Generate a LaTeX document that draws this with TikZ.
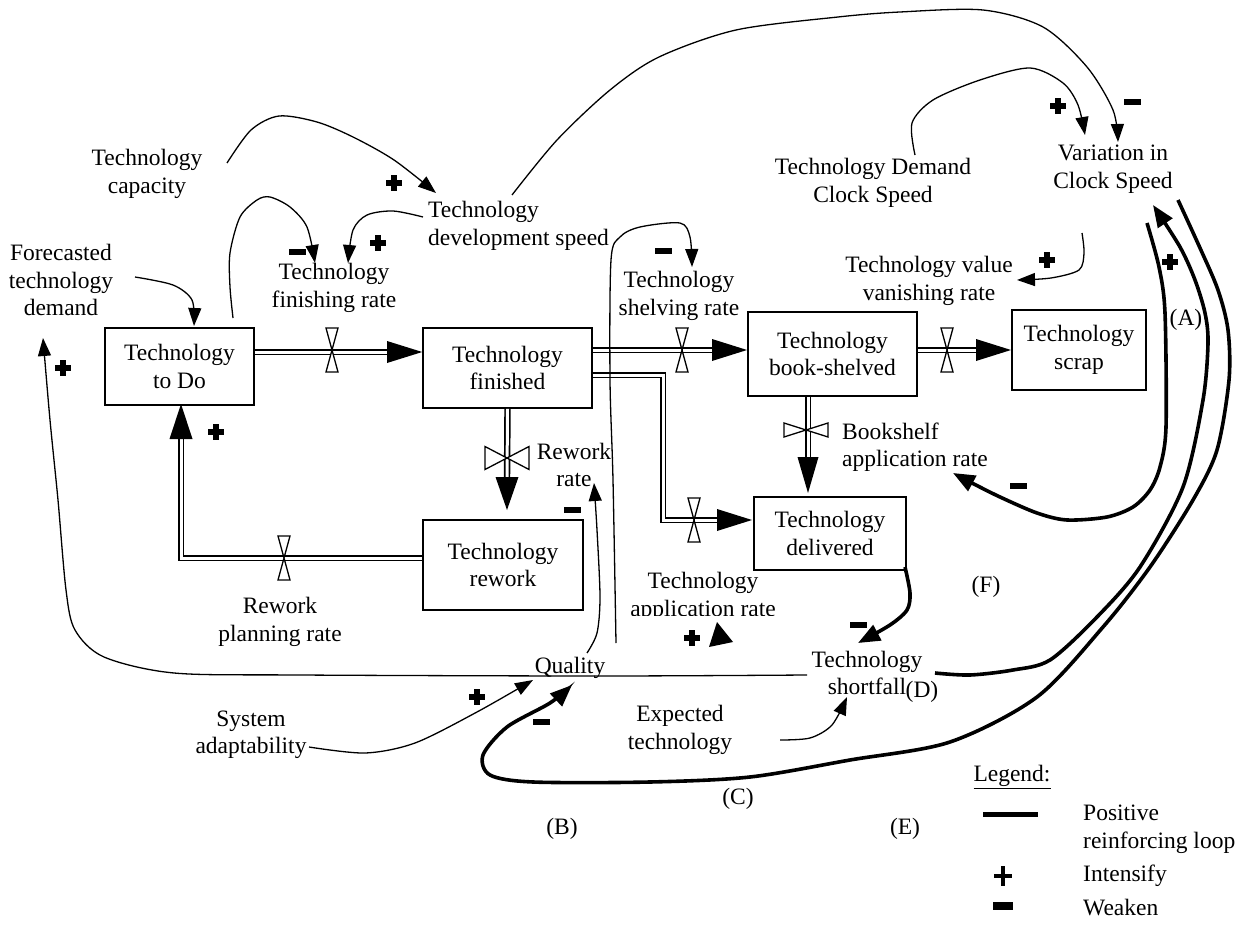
\documentclass[tikz,border=0pt]{standalone}
\usepackage{fontspec}
\setmainfont{Liberation Serif}
\usetikzlibrary{arrows.meta}
\begin{document}
\begin{tikzpicture}[x=1pt,y=-1pt,
  lbl/.style={align=center,inner sep=0pt,font=\fontsize{23.5}{27.5}\selectfont},
  stock/.style={draw,line width=1.6pt,align=center,inner sep=0pt,font=\fontsize{23.5}{27.5}\selectfont},
  infl/.style={line width=1.3pt,-{Triangle[length=18pt,width=13pt]}},
  thickinfl/.style={line width=3.6pt,-{Triangle[length=22pt,width=17pt]}},
  pipe/.style={double=white,double distance=3pt,line width=1.7pt},
  vvalve/.pic={\draw[line width=1.3pt,fill=white] (-6,-22)--(6,-22)--(-6,22)--(6,22)--cycle;},
  hvalve/.pic={\draw[line width=1.3pt,fill=white] (-22,-7)--(-22,7)--(22,-7)--(22,7)--cycle;},
  hvalvebig/.pic={\draw[line width=1.3pt,fill=white] (-22,-11.5)--(-22,11.5)--(22,-11.5)--(22,11.5)--cycle;},
  pls/.pic={\fill (-8,-2.8) rectangle (8,2.8); \fill (-2.8,-8) rectangle (2.8,8);},
  mns/.pic={\fill (-8.5,-3.2) rectangle (8.5,3.2);},
  lpls/.pic={\fill (-9,-2.2) rectangle (9,2.2); \fill (-2.2,-10) rectangle (2.2,10);},
  lmns/.pic={\fill (-10,-4) rectangle (10,4);}]
\useasboundingbox (0,0) rectangle (1250,941);

% ---- stocks ----
\node[stock,minimum width=149pt,minimum height=77pt] (todo) at (179.5,366.5) {Technology\\to Do};
\node[stock,minimum width=169pt,minimum height=80pt] (fin) at (507.5,368) {Technology\\finished};
\node[stock,minimum width=169pt,minimum height=84pt] (shelf) at (832.5,354) {Technology\\book-shelved};
\node[stock,minimum width=134pt,minimum height=80pt] (scrap) at (1079,350) {Technology\\scrap};
\node[stock,minimum width=160pt,minimum height=90pt] (rework) at (503,565) {Technology\\rework};
\node[stock,minimum width=152pt,minimum height=73pt] (deliv) at (830,533.5) {Technology\\delivered};

% ---- flows (pipes) ----
\draw[pipe] (todo.east |- 0,352) -- (390,352);
\fill (fin.west |- 0,352) -- (387,341) -- (387,363) -- cycle;
\pic at (332,350) {vvalve};

\draw[pipe] (fin.east |- 0,350) -- (715,350);
\fill (747,350) -- (712,339) -- (712,361) -- cycle;
\pic at (682,350) {vvalve};

\draw[pipe] (fin.east |- 0,375) -- (663,375) -- (663,520) -- (720,520);
\fill (752,520) -- (717,509) -- (717,531) -- cycle;
\pic at (694,520) {vvalve};

\draw[pipe] (shelf.east |- 0,350) -- (979,350);
\fill (1011,350) -- (976,339) -- (976,361) -- cycle;
\pic at (947,350) {vvalve};

\draw[pipe] (fin.south) -- (507,480);
\fill (507,510) -- (495.5,477) -- (518.5,477) -- cycle;
\pic at (507,458) {hvalvebig};

\draw[pipe] (rework.west |- 0,558) -- (181,558) -- (181,436);
\fill (181,404) -- (169.5,439) -- (192.5,439) -- cycle;
\pic at (284,558) {vvalve};

\draw[pipe] (808,397) -- (808,460);
\fill (808,493) -- (797.5,457) -- (818.5,457) -- cycle;
\pic at (806,430) {hvalve};

% ---- labels ----
\node[lbl] (cap) at (147,174) {Technology\\capacity};
\node[lbl] (fcast) at (61,280) {Forecasted\\technology\\demand};
\node[lbl,align=left,anchor=west] (dev) at (428,226) {Technology\\development speed};
\node[lbl] (finrate) at (334,288) {Technology\\finishing rate};
\node[lbl] (shelrate) at (679,296) {Technology\\shelving rate};
\node[lbl] (tdcs) at (873,183) {Technology Demand\\Clock Speed};
\node[lbl] (var) at (1113,169) {Variation in\\Clock Speed};
\node[lbl] (vanish) at (929,281) {Technology value\\vanishing rate};
\node[lbl,align=left,anchor=west] (bsapp) at (842,447) {Bookshelf\\application rate};
\node[lbl] (rwrate) at (574,465) {Rework\\rate};
\node[lbl] (rwplan) at (280,622) {Rework\\planning rate};
\begin{scope}
  \clip (600,560) rectangle (800,615);
  \node[lbl] (apprate) at (703,597) {Technology\\application rate};
\end{scope}
\node[lbl] (qual) at (570,668) {Quality};
\node[lbl] (short) at (867,673) {Technology\\shortfall};
\node[lbl] (expect) at (680,730) {Expected\\technology};
\node[lbl] (sysad) at (251,735) {System\\adaptability};
\node[lbl] (lA) at (1186,320) {(A)};
\node[lbl] (lB) at (562,829) {(B)};
\node[lbl] (lC) at (738,799) {(C)};
\node[lbl] (lD) at (922,692) {(D)};
\node[lbl] (lE) at (905,829) {(E)};
\node[lbl] (lF) at (986,587) {(F)};

% ---- thin causal links ----
\draw[infl] plot[smooth] coordinates {(227,163) (251,130) (279,116) (317,122) (353,137) (394,160) (436,193)};
\draw[infl] plot[smooth] coordinates {(423,217) (393,211) (367,215) (353,230) (348,263)};
\draw[infl] plot[smooth] coordinates {(233,318) (230,287) (230,253) (240,217) (257,200) (270,197) (290,207) (307,227) (315,263)};
\draw[infl] plot[smooth] coordinates {(135,277) (173,285) (192,300) (194,326)};
\draw[infl] plot[smooth] coordinates {(512,195) (557,140) (610,90) (659,57) (736,30) (838,17) (900,12) (983,10) (1043,27) (1087,67) (1113,110) (1118,142)};
\draw[infl] plot[smooth] coordinates {(915,155) (912,123) (933,100) (980,80) (1030,68) (1063,83) (1078,105) (1085,135)};
\draw[infl] plot[smooth] coordinates {(1082,233) (1084,253) (1079,270) (1051,278) (1017,280)};
\draw[infl] plot[smooth] coordinates {(616,643) (613,480) (610,380) (611,260) (620,237) (640,227) (680,223) (690,237) (692,267)};
\draw[infl] plot[smooth] coordinates {(587,653) (597,633) (600,597) (597,530) (594,483)};
\draw[infl] plot[smooth] coordinates {(807,675) (600,676) (300,675) (174,673) (104,657) (75,630) (66,590) (58,500) (50,420) (43,338)};
\draw[infl] plot[smooth] coordinates {(309,747) (365,753) (415,743) (477,712) (533,680)};
\draw[infl] plot[smooth] coordinates {(780,740) (810,738) (832,725) (847,697)};

% ---- reinforcing loops ----
\draw[thickinfl] plot[smooth] coordinates {(905,567) (910,593) (907,610) (890,625) (858,643)};
\draw[thickinfl] plot[smooth] coordinates {(935,673) (970,675) (1013,670) (1050,660) (1097,617) (1140,567) (1183,487) (1203,400) (1208,343) (1205,313) (1195,280) (1180,247) (1153,205)};
\draw[thickinfl] plot[smooth] coordinates {(1147,223) (1159,267) (1165,313) (1166,427) (1160,467) (1150,490) (1133,507) (1107,517) (1067,520) (1037,513) (1000,497) (970,482) (953,473)};
\draw[thickinfl] plot[smooth] coordinates {(1178,200) (1200,248) (1218,290) (1228,330) (1229,380) (1217,450) (1193,500) (1150,567) (1103,627) (1037,697) (950,742) (850,760) (750,777) (650,782) (533,782) (490,775) (483,755) (507,727) (550,703) (572,685)};

% stray arrowhead near the application rate
\fill (709,647) -- (717,622) -- (733,642) -- cycle;

% ---- polarity signs ----
\pic at (394,183) {pls};
\pic at (378,243) {pls};
\pic at (297,252) {mns};
\pic at (63,368) {pls};
\pic at (216,432) {pls};
\pic at (663,251) {mns};
\pic at (572,510) {mns};
\pic at (1058,106) {pls};
\pic at (1132,102) {mns};
\pic at (1047,260) {pls};
\pic at (1170,262) {pls};
\pic at (1018,486) {mns};
\pic at (858,625) {mns};
\pic at (692,638) {pls};
\pic at (477,697) {pls};
\pic at (541,722) {mns};

% ---- legend ----
\node[lbl] (leg) at (1012,777) {\underline{Legend:}};
\draw[line width=5pt] (983,814) -- (1038,814);
\node[lbl,align=left,anchor=west] (legpos) at (1083,829) {Positive\\reinforcing loop};
\pic at (1003,876) {lpls};
\node[lbl,anchor=west] (legint) at (1083,876) {Intensify};
\pic at (1003,906) {lmns};
\node[lbl,anchor=west] (legweak) at (1083,908) {Weaken};
\end{tikzpicture}
\end{document}
